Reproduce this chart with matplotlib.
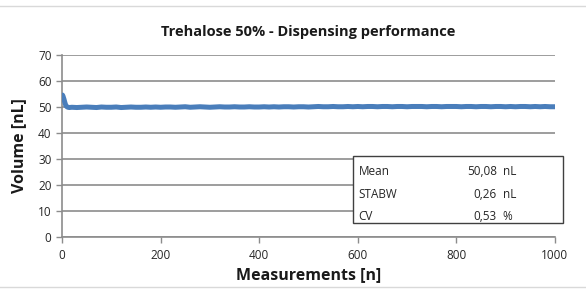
"""Trehalose 50% dispensing performance chart."""
import matplotlib

matplotlib.use("Agg")
import matplotlib.pyplot as plt  # noqa: E402
from matplotlib.patches import Rectangle  # noqa: E402

plt.rcParams["font.family"] = ["Open Sans", "DejaVu Sans"]

measurements = [1, 2, 3, 4, 5, 6, 7, 8, 10, 12, 15, 20, 30, 40, 50, 60, 70, 80, 90,
                100, 110, 120, 130, 140, 150, 160, 170, 180, 190, 200, 210, 220, 230,
                240, 250, 260, 270, 280, 290, 300, 310, 320, 330, 340, 350, 360, 370,
                380, 390, 400, 410, 420, 430, 440, 450, 460, 470, 480, 490, 500, 510,
                520, 530, 540, 550, 560, 570, 580, 590, 600, 610, 620, 630, 640, 650,
                660, 670, 680, 690, 700, 710, 720, 730, 740, 750, 760, 770, 780, 790,
                800, 810, 820, 830, 840, 850, 860, 870, 880, 890, 900, 910, 920, 930,
                940, 950, 960, 970, 980, 990, 1000]
volume = [54.6, 54.2, 53.6, 53.0, 52.3, 51.6, 51.0, 50.5, 50.1, 49.9, 49.8, 49.9, 49.8,
          49.9, 50.0, 49.9, 49.8, 50.0, 49.9, 49.9, 50.0, 49.8, 49.9, 50.0, 49.9, 49.9,
          50.0, 49.9, 50.0, 49.9, 50.0, 50.0, 49.9, 50.0, 50.1, 49.9, 50.0, 50.1, 50.0,
          49.9, 50.0, 50.1, 50.0, 50.0, 50.1, 50.0, 50.0, 50.1, 50.0, 50.0, 50.1, 50.0,
          50.1, 50.0, 50.1, 50.1, 50.0, 50.1, 50.1, 50.0, 50.1, 50.2, 50.1, 50.1, 50.2,
          50.1, 50.1, 50.2, 50.1, 50.2, 50.1, 50.2, 50.2, 50.1, 50.2, 50.2, 50.1, 50.2,
          50.2, 50.1, 50.2, 50.2, 50.2, 50.1, 50.2, 50.2, 50.1, 50.2, 50.2, 50.2, 50.1,
          50.2, 50.2, 50.1, 50.2, 50.2, 50.1, 50.2, 50.2, 50.1, 50.2, 50.1, 50.2, 50.2,
          50.1, 50.2, 50.1, 50.2, 50.1, 50.1]

stat_names = ["Mean", "STABW", "CV"]
stat_values = ["50,08", "0,26", "0,53"]
stat_units = ["nL", "nL", "%"]

GRID = "#8c8c8c"
LINE = "#4a7ebb"

fig = plt.figure(figsize=(5.86, 2.90), dpi=100)
ax = fig.add_axes([0.1058, 0.1828, 0.8412, 0.6275])

ax.plot(measurements, volume, color=LINE, lw=3.6, solid_capstyle="round", zorder=3)

ax.set_xlim(0, 1000)
ax.set_ylim(0, 70)
ax.set_xticks(range(0, 1001, 200))
ax.set_yticks(range(0, 71, 10))
ax.yaxis.grid(True, color=GRID, lw=1.2)
ax.set_axisbelow(True)
for side in ("top", "right"):
    ax.spines[side].set_visible(False)
for side in ("left", "bottom"):
    ax.spines[side].set_color(GRID)
    ax.spines[side].set_linewidth(1.2)
ax.tick_params(axis="both", colors=GRID, length=4, width=1.0, labelsize=8.5,
               labelcolor="#262626")
ax.tick_params(axis="x", pad=5)

ax.set_title("Trehalose 50% - Dispensing performance", fontsize=10.5,
             fontweight="bold", color="#1a1a1a", pad=14)
ax.set_xlabel("Measurements [n]", fontsize=11.5, fontweight="bold",
              color="#1a1a1a", labelpad=3)
ax.set_ylabel("Volume [nL]", fontsize=11.5, fontweight="bold",
              color="#1a1a1a", labelpad=8)

# statistics box
fig.patches.append(Rectangle((0.6024, 0.231), 0.3584, 0.231, transform=fig.transFigure,
                             facecolor="white", edgecolor="#404040", lw=1.0, zorder=5))
for i, (name, val, unit) in enumerate(zip(stat_names, stat_values, stat_units)):
    y = 0.407 - i * 0.077
    fig.text(0.612, y, name, fontsize=8.5, color="#262626", va="center", zorder=6)
    fig.text(0.848, y, val, fontsize=8.5, color="#262626", va="center", ha="right", zorder=6)
    fig.text(0.858, y, unit, fontsize=8.5, color="#262626", va="center", zorder=6)

# light chart-area edges
fig.add_artist(plt.Line2D([0, 1], [0.978, 0.978], transform=fig.transFigure,
                          color="#d9d9d9", lw=1.0))
fig.add_artist(plt.Line2D([0, 1], [0.012, 0.012], transform=fig.transFigure,
                          color="#d9d9d9", lw=1.0))

fig.savefig("out.png", dpi=100)
